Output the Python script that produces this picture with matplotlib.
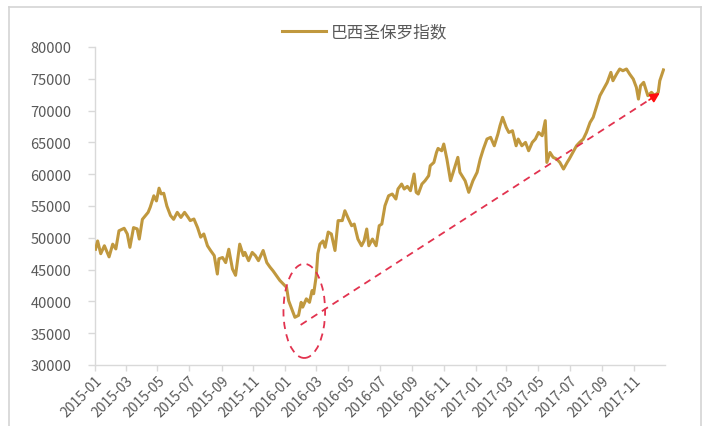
import matplotlib
matplotlib.use("Agg")
import matplotlib.pyplot as plt
import matplotlib.dates as mdates
from matplotlib.patches import Ellipse
from matplotlib.lines import Line2D
import pandas as pd

plt.rcParams['font.family'] = ['Noto Sans CJK SC', 'DejaVu Sans']

# Ibovespa closing levels (selected sessions)
dates = [
    "2015-01-02", "2015-01-06", "2015-01-12", "2015-01-19", "2015-01-28", "2015-02-04",
    "2015-02-10", "2015-02-16", "2015-02-26", "2015-03-04", "2015-03-09", "2015-03-16",
    "2015-03-23", "2015-03-27", "2015-04-02", "2015-04-13", "2015-04-17", "2015-04-24",
    "2015-04-29", "2015-05-04", "2015-05-08", "2015-05-13", "2015-05-19", "2015-05-26",
    "2015-06-01", "2015-06-08", "2015-06-15", "2015-06-22", "2015-06-29", "2015-07-03",
    "2015-07-10", "2015-07-17", "2015-07-23", "2015-07-29", "2015-08-05", "2015-08-11",
    "2015-08-18", "2015-08-24", "2015-08-27", "2015-09-03", "2015-09-09", "2015-09-15",
    "2015-09-22", "2015-09-28", "2015-10-06", "2015-10-13", "2015-10-16", "2015-10-23",
    "2015-10-30", "2015-11-05", "2015-11-11", "2015-11-20", "2015-11-27", "2015-12-03",
    "2015-12-09", "2015-12-16", "2015-12-22", "2016-01-04", "2016-01-08", "2016-01-14",
    "2016-01-20", "2016-01-27", "2016-02-01", "2016-02-04", "2016-02-11", "2016-02-17",
    "2016-02-22", "2016-02-25", "2016-03-01", "2016-03-04", "2016-03-08", "2016-03-14",
    "2016-03-18", "2016-03-24", "2016-03-30", "2016-04-06", "2016-04-12", "2016-04-20",
    "2016-04-25", "2016-05-02", "2016-05-08", "2016-05-13", "2016-05-20", "2016-05-27",
    "2016-06-01", "2016-06-06", "2016-06-10", "2016-06-17", "2016-06-24", "2016-06-30",
    "2016-07-05", "2016-07-11", "2016-07-18", "2016-07-25", "2016-08-01", "2016-08-05",
    "2016-08-12", "2016-08-17", "2016-08-23", "2016-08-29", "2016-09-05", "2016-09-09",
    "2016-09-13", "2016-09-20", "2016-09-26", "2016-10-03", "2016-10-06", "2016-10-13",
    "2016-10-18", "2016-10-21", "2016-10-28", "2016-11-01", "2016-11-07", "2016-11-14",
    "2016-11-21", "2016-11-28", "2016-12-02", "2016-12-12", "2016-12-19", "2016-12-27",
    "2017-01-04", "2017-01-10", "2017-01-16", "2017-01-23", "2017-01-30", "2017-02-06",
    "2017-02-13", "2017-02-17", "2017-02-22", "2017-03-01", "2017-03-06", "2017-03-13",
    "2017-03-20", "2017-03-24", "2017-03-31", "2017-04-07", "2017-04-13", "2017-04-20",
    "2017-04-26", "2017-05-02", "2017-05-09", "2017-05-15", "2017-05-18", "2017-05-24",
    "2017-05-30", "2017-06-06", "2017-06-12", "2017-06-19", "2017-06-26", "2017-06-30",
    "2017-07-07", "2017-07-14", "2017-07-20", "2017-07-27", "2017-08-02", "2017-08-09",
    "2017-08-15", "2017-08-22", "2017-08-28", "2017-09-04", "2017-09-11", "2017-09-18",
    "2017-09-22", "2017-09-29", "2017-10-05", "2017-10-11", "2017-10-18", "2017-10-24",
    "2017-10-31", "2017-11-06", "2017-11-10", "2017-11-14", "2017-11-20", "2017-11-24",
    "2017-11-28", "2017-12-05", "2017-12-11", "2017-12-18", "2017-12-21", "2017-12-28",
]
values = [
    48200, 49500, 47500, 48750, 47000, 49000,
    48250, 51100, 51500, 50600, 48500, 51600,
    51400, 49800, 52900, 54000, 54800, 56600,
    55800, 57800, 56900, 57000, 55000, 53500,
    52900, 54000, 53200, 54000, 53200, 52700,
    52950, 51600, 50100, 50600, 48750, 48000,
    47200, 44300, 46700, 46900, 46100, 48200,
    45100, 44100, 49000, 47200, 47700, 46400,
    47700, 47200, 46400, 48000, 46100, 45400,
    44800, 44000, 43300, 42200, 40100, 38800,
    37500, 37800, 39850, 39100, 40400, 39850,
    41700, 41200, 44000, 47500, 49000, 49500,
    48500, 50900, 50600, 48000, 52700, 52700,
    54250, 52950, 51900, 52160, 49800, 48750,
    49540, 51380, 48750, 49800, 48750, 51900,
    52160, 55040, 56610, 56880, 56090, 57670,
    58450, 57670, 58080, 57400, 60030, 57150,
    56880, 58450, 58970, 59760, 61330, 61850,
    63420, 64050, 63680, 64740, 62380, 58970,
    60810, 62650, 60290, 58970, 57150, 58970,
    60290, 62380, 63950, 65530, 65790, 64470,
    66310, 67620, 68940, 67350, 66560, 66830,
    64470, 65530, 64470, 65000, 63690, 65000,
    65530, 66560, 66050, 68420, 61850, 63420,
    62650, 62380, 61850, 60810, 61850, 62380,
    63420, 64470, 65000, 65530, 66560, 68130,
    68940, 70780, 72350, 73390, 74440, 76010,
    74700, 75750, 76540, 76270, 76540, 75750,
    74960, 73650, 71810, 73910, 74440, 73390,
    72350, 72870, 72350, 72870, 74700, 76400,
]
series_name = "巴西圣保罗指数"

# Axis settings
y_ticks = [30000, 35000, 40000, 45000, 50000, 55000, 60000, 65000, 70000, 75000, 80000]
x_start, x_end = "2015-01-01", "2017-12-31"

# Trend annotation: low-point circle and rising trend arrow
circle_center = ("2016-02-07", 38500)
circle_width_days = 80
circle_height = 14800
trend_start = ("2016-01-31", 36300)
trend_end = ("2017-12-21", 72760)

gold = "#C0983E"
grey_text = "#595959"
axis_grey = "#D9D9D9"
dash_red = "#E2334F"

fig = plt.figure(figsize=(7.07, 4.27), dpi=100)
ax = fig.add_axes([0.1344, 0.1429, 0.8062, 0.7447])

dt = pd.to_datetime(dates)
ax.plot(dt, values, color=gold, lw=2.2, solid_joinstyle="round", label=series_name, zorder=3)

ax.set_xlim(pd.Timestamp(x_start), pd.Timestamp(x_end))
ax.set_ylim(y_ticks[0], y_ticks[-1])
ax.set_yticks(y_ticks)
ax.xaxis.set_major_locator(mdates.MonthLocator(bymonth=[1, 3, 5, 7, 9, 11]))
ax.xaxis.set_major_formatter(mdates.DateFormatter("%Y-%m"))

for s in ("top", "right"):
    ax.spines[s].set_visible(False)
for s in ("left", "bottom"):
    ax.spines[s].set_color(axis_grey)
    ax.spines[s].set_linewidth(1.0)

ax.tick_params(axis="y", colors=axis_grey, length=5, width=1, pad=12,
               labelcolor=grey_text, labelsize=10.5)
ax.tick_params(axis="x", colors=axis_grey, length=4, width=1, pad=2,
               labelcolor=grey_text, labelsize=10)
for lbl in ax.get_xticklabels():
    lbl.set_rotation(45)
    lbl.set_ha("right")
    lbl.set_va("top")
    lbl.set_rotation_mode("anchor")

# Dashed ellipse around the early-2016 low
cx = mdates.date2num(pd.Timestamp(circle_center[0]))
ell = Ellipse((cx, circle_center[1]), circle_width_days, circle_height,
              fill=False, edgecolor=dash_red, lw=1.3, ls=(0, (4, 3)), zorder=4)
ax.add_patch(ell)

# Dashed trend line with solid arrowhead
x0 = pd.Timestamp(trend_start[0])
x1 = pd.Timestamp(trend_end[0])
ax.plot([x0, x1], [trend_start[1], trend_end[1]], color=dash_red, lw=1.3,
        ls=(0, (4, 3)), zorder=4)
frac = 0.97
xh = x0 + (x1 - x0) * frac
yh = trend_start[1] + (trend_end[1] - trend_start[1]) * frac
ax.annotate("", xy=(x1, trend_end[1]), xytext=(xh, yh),
            arrowprops=dict(arrowstyle="-|>", color="#FF1010", lw=1.2,
                            mutation_scale=14, shrinkA=0, shrinkB=0), zorder=5)

fig.legend(loc="center", bbox_to_anchor=(0.516, 0.923), frameon=False,
           handlelength=2.6, handletextpad=0.3, fontsize=12,
           labelcolor=grey_text)

# Outer frame
frame_kw = dict(color="#D4D4D4", lw=1.2, transform=fig.transFigure)
fig.add_artist(Line2D([0.0127, 0.0127], [0.0, 0.981], **frame_kw))
fig.add_artist(Line2D([0.0127, 0.9915], [0.981, 0.981], **frame_kw))
fig.add_artist(Line2D([0.9915, 0.9915], [0.0, 0.981], **frame_kw))

fig.savefig("out.png", dpi=100)
